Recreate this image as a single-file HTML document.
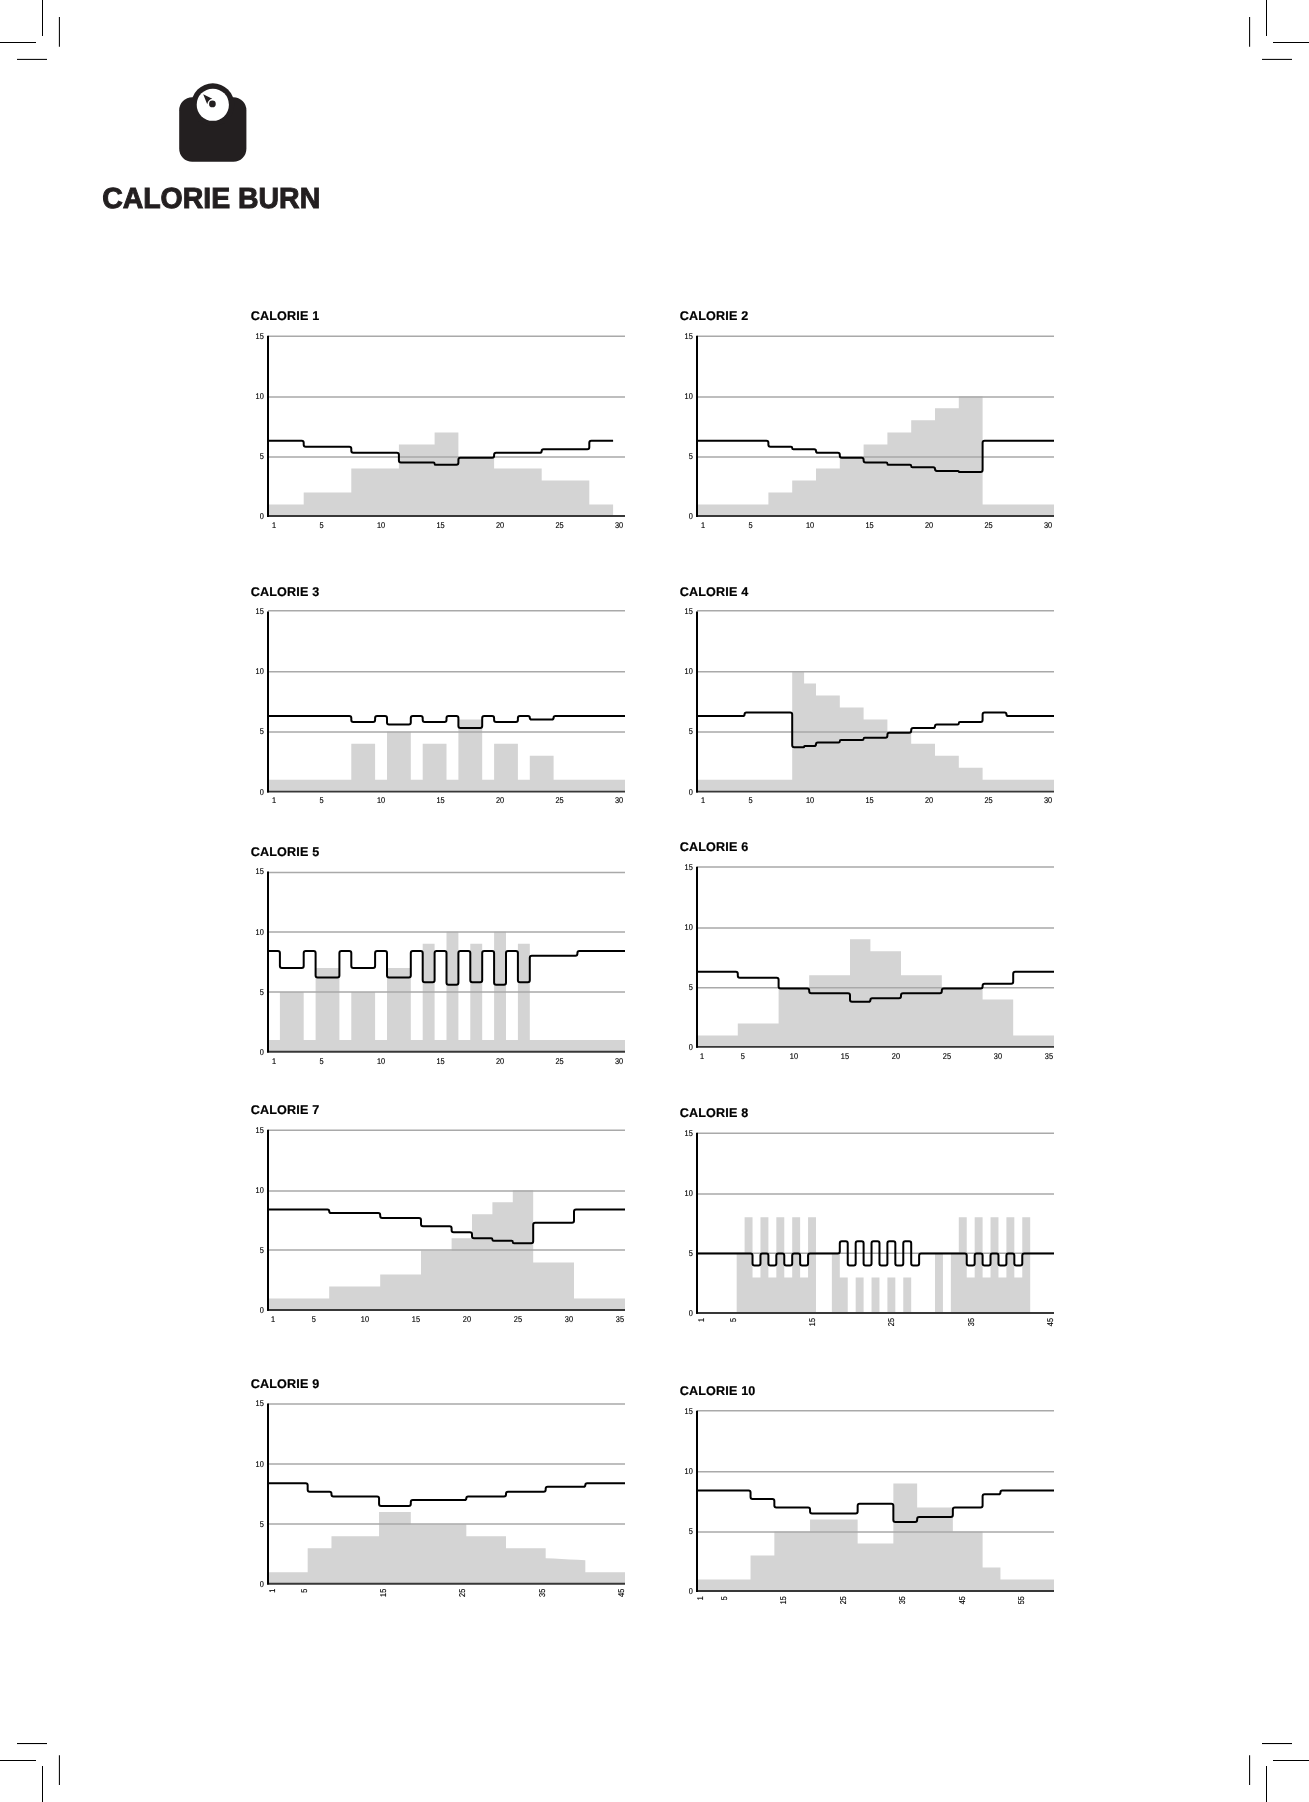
<!DOCTYPE html>
<html><head><meta charset="utf-8"><title>Calorie Burn</title>
<style>
html,body{margin:0;padding:0;background:#fff;}
body{width:1309px;height:1802px;overflow:hidden;}
svg{display:block;font-family:"Liberation Sans",sans-serif;will-change:transform;text-rendering:geometricPrecision;}
.ct{font-size:12.6px;font-weight:bold;fill:#000;letter-spacing:0.17px;stroke:#000;stroke-width:0.2px;}
.yl{font-size:8.4px;fill:#000;stroke:#000;stroke-width:0.15px;text-anchor:end;}
.xl{font-size:8.4px;fill:#000;stroke:#000;stroke-width:0.15px;text-anchor:middle;}
.xr{font-size:8.4px;fill:#000;stroke:#000;stroke-width:0.15px;text-anchor:end;}
.hd{font-size:29.2px;font-weight:bold;fill:#231f20;stroke:#231f20;stroke-width:1px;stroke-linejoin:miter;}
</style></head><body>
<svg width="1309" height="1802" viewBox="0 0 1309 1802">
<rect width="1309" height="1802" fill="#fff"/>
<g stroke="#000" stroke-width="1.05"><line x1="42.5" y1="0" x2="42.5" y2="36"/><line x1="59.4" y1="17" x2="59.4" y2="46.8"/><line x1="0" y1="42.5" x2="36" y2="42.5"/><line x1="17" y1="59.4" x2="47" y2="59.4"/><line x1="42.5" y1="1802" x2="42.5" y2="1766"/><line x1="59.4" y1="1785" x2="59.4" y2="1755.2"/><line x1="0" y1="1760.45" x2="36" y2="1760.45"/><line x1="17" y1="1743.55" x2="47" y2="1743.55"/><line x1="1266.5" y1="0" x2="1266.5" y2="36"/><line x1="1249.6" y1="17" x2="1249.6" y2="46.8"/><line x1="1309" y1="42.5" x2="1273" y2="42.5"/><line x1="1292" y1="59.4" x2="1262" y2="59.4"/><line x1="1266.5" y1="1802" x2="1266.5" y2="1766"/><line x1="1249.6" y1="1785" x2="1249.6" y2="1755.2"/><line x1="1309" y1="1760.45" x2="1273" y2="1760.45"/><line x1="1292" y1="1743.55" x2="1262" y2="1743.55"/></g>
<g fill="#231f20"><rect x="179.2" y="97.2" width="67.2" height="64.6" rx="13" ry="13"/><circle cx="212.8" cy="104.75" r="21.45"/><circle cx="212.8" cy="104.75" r="16.1" fill="#fff"/><circle cx="212.4" cy="103.95" r="3.35"/><path d="M203.2 94.3 L212.3 98.7 Q208.3 99.2 207.2 104.2 Z"/></g>
<text class="hd" x="102.2" y="207.9" textLength="218" lengthAdjust="spacingAndGlyphs">CALORIE BURN</text>
<g>
<path d="M268 516.6L268 504.57L303.7 504.57L303.7 492.54L351.3 492.54L351.3 468.48L398.9 468.48L398.9 444.42L434.6 444.42L434.6 432.39L458.4 432.39L458.4 456.45L494.1 456.45L494.1 468.48L541.7 468.48L541.7 480.51L589.3 480.51L589.3 504.57L613.1 504.57V516.6Z" fill="#d4d4d4"/>
<line x1="268" y1="457.1" x2="625" y2="457.1" stroke="#a9a9a9" stroke-width="1.5"/>
<line x1="268" y1="397" x2="625" y2="397" stroke="#a9a9a9" stroke-width="1.5"/>
<line x1="268" y1="336.2" x2="625" y2="336.2" stroke="#a9a9a9" stroke-width="1.5"/>
<line x1="267" y1="516" x2="625" y2="516" stroke="#383838" stroke-width="1.9"/>
<line x1="268" y1="335.8" x2="268" y2="516.9" stroke="#000" stroke-width="2"/>
<path d="M268 440.81H301.7Q303.7 440.81 303.7 442.81V444.83Q303.7 446.83 305.7 446.83H349.3Q351.3 446.83 351.3 448.83V450.84Q351.3 452.84 353.3 452.84H396.9Q398.9 452.84 398.9 454.84V460.47Q398.9 462.47 400.9 462.47H433.4Q434.6 462.47 434.6 463.67V463.67Q434.6 464.87 435.8 464.87H456.4Q458.4 464.87 458.4 462.87V459.65Q458.4 457.65 460.4 457.65H492.1Q494.1 457.65 494.1 455.65V454.84Q494.1 452.84 496.1 452.84H539.9Q541.7 452.84 541.7 451.04V451.04Q541.7 449.23 543.5 449.23H587.3Q589.3 449.23 589.3 447.23V442.81Q589.3 440.81 591.3 440.81H613.1" fill="none" stroke="#000" stroke-width="2" stroke-linejoin="round"/>
<text class="ct" x="250.65" y="320.1">CALORIE 1</text>
<text class="yl" transform="translate(263.8 518.95) scale(0.88 1)">0</text>
<text class="yl" transform="translate(263.8 458.88) scale(0.88 1)">5</text>
<text class="yl" transform="translate(263.8 398.81) scale(0.88 1)">10</text>
<text class="yl" transform="translate(263.8 338.74) scale(0.88 1)">15</text>
<text class="xl" transform="translate(273.95 527.85) scale(0.88 1)">1</text>
<text class="xl" transform="translate(321.55 527.85) scale(0.88 1)">5</text>
<text class="xl" transform="translate(381.05 527.85) scale(0.88 1)">10</text>
<text class="xl" transform="translate(440.55 527.85) scale(0.88 1)">15</text>
<text class="xl" transform="translate(500.05 527.85) scale(0.88 1)">20</text>
<text class="xl" transform="translate(559.55 527.85) scale(0.88 1)">25</text>
<text class="xl" transform="translate(619.05 527.85) scale(0.88 1)">30</text>
</g>
<g>
<path d="M697 516.6L697 504.57L768.4 504.57L768.4 492.54L792.2 492.54L792.2 480.51L816 480.51L816 468.48L839.8 468.48L839.8 456.45L863.6 456.45L863.6 444.42L887.4 444.42L887.4 432.39L911.2 432.39L911.2 420.36L935 420.36L935 408.33L958.8 408.33L958.8 396.3L982.6 396.3L982.6 504.57L1054 504.57V516.6Z" fill="#d4d4d4"/>
<line x1="697" y1="457.1" x2="1054" y2="457.1" stroke="#a9a9a9" stroke-width="1.5"/>
<line x1="697" y1="397" x2="1054" y2="397" stroke="#a9a9a9" stroke-width="1.5"/>
<line x1="697" y1="336.2" x2="1054" y2="336.2" stroke="#a9a9a9" stroke-width="1.5"/>
<line x1="696" y1="516" x2="1054" y2="516" stroke="#383838" stroke-width="1.9"/>
<line x1="697" y1="335.8" x2="697" y2="516.9" stroke="#000" stroke-width="2"/>
<path d="M697 440.81H766.4Q768.4 440.81 768.4 442.81V444.83Q768.4 446.83 770.4 446.83H791Q792.2 446.83 792.2 448.03V448.03Q792.2 449.23 793.4 449.23H814.2Q816 449.23 816 451.04V451.04Q816 452.84 817.8 452.84H837.8Q839.8 452.84 839.8 454.84V455.65Q839.8 457.65 841.8 457.65H861.6Q863.6 457.65 863.6 459.65V460.47Q863.6 462.47 865.6 462.47H886.2Q887.4 462.47 887.4 463.67V463.67Q887.4 464.87 888.6 464.87H910Q911.2 464.87 911.2 466.07V466.07Q911.2 467.28 912.4 467.28H933.2Q935 467.28 935 469.08V469.08Q935 470.89 936.8 470.89H958.2Q958.8 470.89 958.8 471.49V471.49Q958.8 472.09 959.4 472.09H980.6Q982.6 472.09 982.6 470.09V442.81Q982.6 440.81 984.6 440.81H1054" fill="none" stroke="#000" stroke-width="2" stroke-linejoin="round"/>
<text class="ct" x="679.65" y="320.1">CALORIE 2</text>
<text class="yl" transform="translate(692.8 518.95) scale(0.88 1)">0</text>
<text class="yl" transform="translate(692.8 458.88) scale(0.88 1)">5</text>
<text class="yl" transform="translate(692.8 398.81) scale(0.88 1)">10</text>
<text class="yl" transform="translate(692.8 338.74) scale(0.88 1)">15</text>
<text class="xl" transform="translate(702.95 527.85) scale(0.88 1)">1</text>
<text class="xl" transform="translate(750.55 527.85) scale(0.88 1)">5</text>
<text class="xl" transform="translate(810.05 527.85) scale(0.88 1)">10</text>
<text class="xl" transform="translate(869.55 527.85) scale(0.88 1)">15</text>
<text class="xl" transform="translate(929.05 527.85) scale(0.88 1)">20</text>
<text class="xl" transform="translate(988.55 527.85) scale(0.88 1)">25</text>
<text class="xl" transform="translate(1048.05 527.85) scale(0.88 1)">30</text>
</g>
<g>
<path d="M268 791.8L268 779.77L351.3 779.77L351.3 743.68L375.1 743.68L375.1 779.77L387 779.77L387 731.65L410.8 731.65L410.8 779.77L422.7 779.77L422.7 743.68L446.5 743.68L446.5 779.77L458.4 779.77L458.4 719.62L482.2 719.62L482.2 779.77L494.1 779.77L494.1 743.68L517.9 743.68L517.9 779.77L529.8 779.77L529.8 755.71L553.6 755.71L553.6 779.77L625 779.77V791.8Z" fill="#d4d4d4"/>
<line x1="268" y1="732" x2="625" y2="732" stroke="#a9a9a9" stroke-width="1.5"/>
<line x1="268" y1="671.7" x2="625" y2="671.7" stroke="#a9a9a9" stroke-width="1.5"/>
<line x1="268" y1="610.7" x2="625" y2="610.7" stroke="#a9a9a9" stroke-width="1.5"/>
<line x1="267" y1="791.6" x2="625" y2="791.6" stroke="#383838" stroke-width="1.9"/>
<line x1="268" y1="611.4" x2="268" y2="792.5" stroke="#000" stroke-width="2"/>
<path d="M268 716.01H349.3Q351.3 716.01 351.3 718.01V720.03Q351.3 722.03 353.3 722.03H373.1Q375.1 722.03 375.1 720.03V718.01Q375.1 716.01 377.1 716.01H385Q387 716.01 387 718.01V722.43Q387 724.43 389 724.43H408.8Q410.8 724.43 410.8 722.43V718.01Q410.8 716.01 412.8 716.01H420.7Q422.7 716.01 422.7 718.01V720.03Q422.7 722.03 424.7 722.03H444.5Q446.5 722.03 446.5 720.03V718.01Q446.5 716.01 448.5 716.01H456.4Q458.4 716.01 458.4 718.01V726.04Q458.4 728.04 460.4 728.04H480.2Q482.2 728.04 482.2 726.04V718.01Q482.2 716.01 484.2 716.01H492.1Q494.1 716.01 494.1 718.01V720.03Q494.1 722.03 496.1 722.03H515.9Q517.9 722.03 517.9 720.03V718.01Q517.9 716.01 519.9 716.01H528Q529.8 716.01 529.8 717.82V717.82Q529.8 719.62 531.6 719.62H551.8Q553.6 719.62 553.6 717.82V717.82Q553.6 716.01 555.4 716.01H625" fill="none" stroke="#000" stroke-width="2" stroke-linejoin="round"/>
<text class="ct" x="250.65" y="595.7">CALORIE 3</text>
<text class="yl" transform="translate(263.8 794.55) scale(0.88 1)">0</text>
<text class="yl" transform="translate(263.8 734.48) scale(0.88 1)">5</text>
<text class="yl" transform="translate(263.8 674.41) scale(0.88 1)">10</text>
<text class="yl" transform="translate(263.8 614.34) scale(0.88 1)">15</text>
<text class="xl" transform="translate(273.95 803.45) scale(0.88 1)">1</text>
<text class="xl" transform="translate(321.55 803.45) scale(0.88 1)">5</text>
<text class="xl" transform="translate(381.05 803.45) scale(0.88 1)">10</text>
<text class="xl" transform="translate(440.55 803.45) scale(0.88 1)">15</text>
<text class="xl" transform="translate(500.05 803.45) scale(0.88 1)">20</text>
<text class="xl" transform="translate(559.55 803.45) scale(0.88 1)">25</text>
<text class="xl" transform="translate(619.05 803.45) scale(0.88 1)">30</text>
</g>
<g>
<path d="M697 791.8L697 779.77L792.2 779.77L792.2 671.5L804.1 671.5L804.1 683.53L816 683.53L816 695.56L839.8 695.56L839.8 707.59L863.6 707.59L863.6 719.62L887.4 719.62L887.4 731.65L911.2 731.65L911.2 743.68L935 743.68L935 755.71L958.8 755.71L958.8 767.74L982.6 767.74L982.6 779.77L1054 779.77V791.8Z" fill="#d4d4d4"/>
<line x1="697" y1="732" x2="1054" y2="732" stroke="#a9a9a9" stroke-width="1.5"/>
<line x1="697" y1="671.7" x2="1054" y2="671.7" stroke="#a9a9a9" stroke-width="1.5"/>
<line x1="697" y1="610.7" x2="1054" y2="610.7" stroke="#a9a9a9" stroke-width="1.5"/>
<line x1="696" y1="791.6" x2="1054" y2="791.6" stroke="#383838" stroke-width="1.9"/>
<line x1="697" y1="611.4" x2="697" y2="792.5" stroke="#000" stroke-width="2"/>
<path d="M697 716.01H742.8Q744.6 716.01 744.6 714.21V714.21Q744.6 712.4 746.4 712.4H790.2Q792.2 712.4 792.2 714.4V745.29Q792.2 747.29 794.2 747.29H803.5Q804.1 747.29 804.1 746.69V746.69Q804.1 746.09 804.7 746.09H814.2Q816 746.09 816 744.28V744.28Q816 742.48 817.8 742.48H838.6Q839.8 742.48 839.8 741.27V741.27Q839.8 740.07 841 740.07H862.4Q863.6 740.07 863.6 738.87V738.87Q863.6 737.67 864.8 737.67H885.4Q887.4 737.67 887.4 735.67V734.85Q887.4 732.85 889.4 732.85H909.2Q911.2 732.85 911.2 730.85V730.04Q911.2 728.04 913.2 728.04H933.2Q935 728.04 935 726.24V726.24Q935 724.43 936.8 724.43H957.6Q958.8 724.43 958.8 723.23V723.23Q958.8 722.03 960 722.03H980.6Q982.6 722.03 982.6 720.03V714.4Q982.6 712.4 984.6 712.4H1004.6Q1006.4 712.4 1006.4 714.21V714.21Q1006.4 716.01 1008.2 716.01H1054" fill="none" stroke="#000" stroke-width="2" stroke-linejoin="round"/>
<text class="ct" x="679.65" y="595.7">CALORIE 4</text>
<text class="yl" transform="translate(692.8 794.55) scale(0.88 1)">0</text>
<text class="yl" transform="translate(692.8 734.48) scale(0.88 1)">5</text>
<text class="yl" transform="translate(692.8 674.41) scale(0.88 1)">10</text>
<text class="yl" transform="translate(692.8 614.34) scale(0.88 1)">15</text>
<text class="xl" transform="translate(702.95 803.45) scale(0.88 1)">1</text>
<text class="xl" transform="translate(750.55 803.45) scale(0.88 1)">5</text>
<text class="xl" transform="translate(810.05 803.45) scale(0.88 1)">10</text>
<text class="xl" transform="translate(869.55 803.45) scale(0.88 1)">15</text>
<text class="xl" transform="translate(929.05 803.45) scale(0.88 1)">20</text>
<text class="xl" transform="translate(988.55 803.45) scale(0.88 1)">25</text>
<text class="xl" transform="translate(1048.05 803.45) scale(0.88 1)">30</text>
</g>
<g>
<path d="M268 1052.1L268 1040.07L279.9 1040.07L279.9 991.95L303.7 991.95L303.7 1040.07L315.6 1040.07L315.6 967.89L339.4 967.89L339.4 1040.07L351.3 1040.07L351.3 991.95L375.1 991.95L375.1 1040.07L387 1040.07L387 967.89L410.8 967.89L410.8 1040.07L422.7 1040.07L422.7 943.83L434.6 943.83L434.6 1040.07L446.5 1040.07L446.5 931.8L458.4 931.8L458.4 1040.07L470.3 1040.07L470.3 943.83L482.2 943.83L482.2 1040.07L494.1 1040.07L494.1 931.8L506 931.8L506 1040.07L517.9 1040.07L517.9 943.83L529.8 943.83L529.8 1040.07L625 1040.07V1052.1Z" fill="#d4d4d4"/>
<line x1="268" y1="992.1" x2="625" y2="992.1" stroke="#a9a9a9" stroke-width="1.5"/>
<line x1="268" y1="932" x2="625" y2="932" stroke="#a9a9a9" stroke-width="1.5"/>
<line x1="268" y1="872.4" x2="625" y2="872.4" stroke="#a9a9a9" stroke-width="1.5"/>
<line x1="267" y1="1051.7" x2="625" y2="1051.7" stroke="#383838" stroke-width="1.9"/>
<line x1="268" y1="871.5" x2="268" y2="1052.6" stroke="#000" stroke-width="2"/>
<path d="M268 951.05H277.9Q279.9 951.05 279.9 953.05V965.89Q279.9 967.89 281.9 967.89H301.7Q303.7 967.89 303.7 965.89V953.05Q303.7 951.05 305.7 951.05H313.6Q315.6 951.05 315.6 953.05V975.51Q315.6 977.51 317.6 977.51H337.4Q339.4 977.51 339.4 975.51V953.05Q339.4 951.05 341.4 951.05H349.3Q351.3 951.05 351.3 953.05V965.89Q351.3 967.89 353.3 967.89H373.1Q375.1 967.89 375.1 965.89V953.05Q375.1 951.05 377.1 951.05H385Q387 951.05 387 953.05V975.51Q387 977.51 389 977.51H408.8Q410.8 977.51 410.8 975.51V953.05Q410.8 951.05 412.8 951.05H420.7Q422.7 951.05 422.7 953.05V980.33Q422.7 982.33 424.7 982.33H432.6Q434.6 982.33 434.6 980.33V953.05Q434.6 951.05 436.6 951.05H444.5Q446.5 951.05 446.5 953.05V982.73Q446.5 984.73 448.5 984.73H456.4Q458.4 984.73 458.4 982.73V953.05Q458.4 951.05 460.4 951.05H468.3Q470.3 951.05 470.3 953.05V980.33Q470.3 982.33 472.3 982.33H480.2Q482.2 982.33 482.2 980.33V953.05Q482.2 951.05 484.2 951.05H492.1Q494.1 951.05 494.1 953.05V982.73Q494.1 984.73 496.1 984.73H504Q506 984.73 506 982.73V953.05Q506 951.05 508 951.05H515.9Q517.9 951.05 517.9 953.05V980.33Q517.9 982.33 519.9 982.33H527.8Q529.8 982.33 529.8 980.33V957.86Q529.8 955.86 531.8 955.86H575.4Q577.4 955.86 577.4 953.86V953.05Q577.4 951.05 579.4 951.05H625" fill="none" stroke="#000" stroke-width="2" stroke-linejoin="round"/>
<text class="ct" x="250.65" y="855.8">CALORIE 5</text>
<text class="yl" transform="translate(263.8 1054.65) scale(0.88 1)">0</text>
<text class="yl" transform="translate(263.8 994.58) scale(0.88 1)">5</text>
<text class="yl" transform="translate(263.8 934.51) scale(0.88 1)">10</text>
<text class="yl" transform="translate(263.8 874.44) scale(0.88 1)">15</text>
<text class="xl" transform="translate(273.95 1063.55) scale(0.88 1)">1</text>
<text class="xl" transform="translate(321.55 1063.55) scale(0.88 1)">5</text>
<text class="xl" transform="translate(381.05 1063.55) scale(0.88 1)">10</text>
<text class="xl" transform="translate(440.55 1063.55) scale(0.88 1)">15</text>
<text class="xl" transform="translate(500.05 1063.55) scale(0.88 1)">20</text>
<text class="xl" transform="translate(559.55 1063.55) scale(0.88 1)">25</text>
<text class="xl" transform="translate(619.05 1063.55) scale(0.88 1)">30</text>
</g>
<g>
<path d="M697 1047.5L697 1035.47L737.8 1035.47L737.8 1023.44L778.6 1023.44L778.6 987.35L809.2 987.35L809.2 975.32L850 975.32L850 939.23L870.4 939.23L870.4 951.26L901 951.26L901 975.32L941.8 975.32L941.8 987.35L982.6 987.35L982.6 999.38L1013.2 999.38L1013.2 1035.47L1054 1035.47V1047.5Z" fill="#d4d4d4"/>
<line x1="697" y1="987.7" x2="1054" y2="987.7" stroke="#a9a9a9" stroke-width="1.5"/>
<line x1="697" y1="927.9" x2="1054" y2="927.9" stroke="#a9a9a9" stroke-width="1.5"/>
<line x1="697" y1="867.1" x2="1054" y2="867.1" stroke="#a9a9a9" stroke-width="1.5"/>
<line x1="696" y1="1046.9" x2="1054" y2="1046.9" stroke="#383838" stroke-width="1.9"/>
<line x1="697" y1="866.7" x2="697" y2="1047.8" stroke="#000" stroke-width="2"/>
<path d="M697 971.71H735.8Q737.8 971.71 737.8 973.71V975.73Q737.8 977.73 739.8 977.73H776.6Q778.6 977.73 778.6 979.73V986.55Q778.6 988.55 780.6 988.55H807.2Q809.2 988.55 809.2 990.55V991.37Q809.2 993.37 811.2 993.37H848Q850 993.37 850 995.37V999.79Q850 1001.79 852 1001.79H868.6Q870.4 1001.79 870.4 999.98V999.98Q870.4 998.18 872.2 998.18H899Q901 998.18 901 996.18V995.37Q901 993.37 903 993.37H939.8Q941.8 993.37 941.8 991.37V990.55Q941.8 988.55 943.8 988.55H980.6Q982.6 988.55 982.6 986.55V985.74Q982.6 983.74 984.6 983.74H1011.2Q1013.2 983.74 1013.2 981.74V973.71Q1013.2 971.71 1015.2 971.71H1054" fill="none" stroke="#000" stroke-width="2" stroke-linejoin="round"/>
<text class="ct" x="679.65" y="851">CALORIE 6</text>
<text class="yl" transform="translate(692.8 1049.85) scale(0.88 1)">0</text>
<text class="yl" transform="translate(692.8 989.78) scale(0.88 1)">5</text>
<text class="yl" transform="translate(692.8 929.71) scale(0.88 1)">10</text>
<text class="yl" transform="translate(692.8 869.64) scale(0.88 1)">15</text>
<text class="xl" transform="translate(702.1 1058.75) scale(0.88 1)">1</text>
<text class="xl" transform="translate(742.9 1058.75) scale(0.88 1)">5</text>
<text class="xl" transform="translate(793.9 1058.75) scale(0.88 1)">10</text>
<text class="xl" transform="translate(844.9 1058.75) scale(0.88 1)">15</text>
<text class="xl" transform="translate(895.9 1058.75) scale(0.88 1)">20</text>
<text class="xl" transform="translate(946.9 1058.75) scale(0.88 1)">25</text>
<text class="xl" transform="translate(997.9 1058.75) scale(0.88 1)">30</text>
<text class="xl" transform="translate(1048.9 1058.75) scale(0.88 1)">35</text>
</g>
<g>
<path d="M268 1310.55L268 1298.52L329.2 1298.52L329.2 1286.49L380.2 1286.49L380.2 1274.46L421 1274.46L421 1250.4L451.6 1250.4L451.6 1238.37L472 1238.37L472 1214.31L492.4 1214.31L492.4 1202.28L512.8 1202.28L512.8 1190.25L533.2 1190.25L533.2 1262.43L574 1262.43L574 1298.52L625 1298.52V1310.55Z" fill="#d4d4d4"/>
<line x1="268" y1="1249.95" x2="625" y2="1249.95" stroke="#a9a9a9" stroke-width="1.5"/>
<line x1="268" y1="1191" x2="625" y2="1191" stroke="#a9a9a9" stroke-width="1.5"/>
<line x1="268" y1="1130.35" x2="625" y2="1130.35" stroke="#a9a9a9" stroke-width="1.5"/>
<line x1="267" y1="1309.95" x2="625" y2="1309.95" stroke="#383838" stroke-width="1.9"/>
<line x1="268" y1="1129.75" x2="268" y2="1310.85" stroke="#000" stroke-width="2"/>
<path d="M268 1209.5H327.4Q329.2 1209.5 329.2 1211.3V1211.3Q329.2 1213.11 331 1213.11H378.2Q380.2 1213.11 380.2 1215.11V1215.92Q380.2 1217.92 382.2 1217.92H419Q421 1217.92 421 1219.92V1224.34Q421 1226.34 423 1226.34H449.6Q451.6 1226.34 451.6 1228.34V1230.36Q451.6 1232.36 453.6 1232.36H470Q472 1232.36 472 1234.36V1236.37Q472 1238.37 474 1238.37H491.2Q492.4 1238.37 492.4 1239.57V1239.57Q492.4 1240.78 493.6 1240.78H511.6Q512.8 1240.78 512.8 1241.98V1241.98Q512.8 1243.18 514 1243.18H531.2Q533.2 1243.18 533.2 1241.18V1224.73Q533.2 1222.73 535.2 1222.73H572Q574 1222.73 574 1220.73V1211.5Q574 1209.5 576 1209.5H625" fill="none" stroke="#000" stroke-width="2" stroke-linejoin="round"/>
<text class="ct" x="250.65" y="1114.05">CALORIE 7</text>
<text class="yl" transform="translate(263.8 1312.9) scale(0.88 1)">0</text>
<text class="yl" transform="translate(263.8 1252.83) scale(0.88 1)">5</text>
<text class="yl" transform="translate(263.8 1192.76) scale(0.88 1)">10</text>
<text class="yl" transform="translate(263.8 1132.69) scale(0.88 1)">15</text>
<text class="xl" transform="translate(273.1 1321.8) scale(0.88 1)">1</text>
<text class="xl" transform="translate(313.9 1321.8) scale(0.88 1)">5</text>
<text class="xl" transform="translate(364.9 1321.8) scale(0.88 1)">10</text>
<text class="xl" transform="translate(415.9 1321.8) scale(0.88 1)">15</text>
<text class="xl" transform="translate(466.9 1321.8) scale(0.88 1)">20</text>
<text class="xl" transform="translate(517.9 1321.8) scale(0.88 1)">25</text>
<text class="xl" transform="translate(568.9 1321.8) scale(0.88 1)">30</text>
<text class="xl" transform="translate(619.9 1321.8) scale(0.88 1)">35</text>
</g>
<g>
<path d="M697 1313.55L697 1313.55L736.67 1313.55L736.67 1253.4L744.6 1253.4L744.6 1217.31L752.53 1217.31L752.53 1277.46L760.47 1277.46L760.47 1217.31L768.4 1217.31L768.4 1277.46L776.33 1277.46L776.33 1217.31L784.27 1217.31L784.27 1277.46L792.2 1277.46L792.2 1217.31L800.13 1217.31L800.13 1277.46L808.07 1277.46L808.07 1217.31L816 1217.31L816 1313.55L831.87 1313.55L831.87 1253.4L839.8 1253.4L839.8 1277.46L847.73 1277.46L847.73 1313.55L855.67 1313.55L855.67 1277.46L863.6 1277.46L863.6 1313.55L871.53 1313.55L871.53 1277.46L879.47 1277.46L879.47 1313.55L887.4 1313.55L887.4 1277.46L895.33 1277.46L895.33 1313.55L903.27 1313.55L903.27 1277.46L911.2 1277.46L911.2 1313.55L935 1313.55L935 1253.4L942.93 1253.4L942.93 1313.55L950.87 1313.55L950.87 1253.4L958.8 1253.4L958.8 1217.31L966.73 1217.31L966.73 1277.46L974.67 1277.46L974.67 1217.31L982.6 1217.31L982.6 1277.46L990.53 1277.46L990.53 1217.31L998.47 1217.31L998.47 1277.46L1006.4 1277.46L1006.4 1217.31L1014.33 1217.31L1014.33 1277.46L1022.27 1277.46L1022.27 1217.31L1030.2 1217.31L1030.2 1313.55L1054 1313.55V1313.55Z" fill="#d4d4d4"/>
<line x1="697" y1="1253.35" x2="1054" y2="1253.35" stroke="#a9a9a9" stroke-width="1.5"/>
<line x1="697" y1="1194" x2="1054" y2="1194" stroke="#a9a9a9" stroke-width="1.5"/>
<line x1="697" y1="1133.35" x2="1054" y2="1133.35" stroke="#a9a9a9" stroke-width="1.5"/>
<line x1="696" y1="1312.95" x2="1054" y2="1312.95" stroke="#383838" stroke-width="1.9"/>
<line x1="697" y1="1132.75" x2="697" y2="1313.85" stroke="#000" stroke-width="2"/>
<path d="M697 1253.4H750.53Q752.53 1253.4 752.53 1255.4V1263.43Q752.53 1265.43 754.53 1265.43H758.47Q760.47 1265.43 760.47 1263.43V1255.4Q760.47 1253.4 762.47 1253.4H766.4Q768.4 1253.4 768.4 1255.4V1263.43Q768.4 1265.43 770.4 1265.43H774.33Q776.33 1265.43 776.33 1263.43V1255.4Q776.33 1253.4 778.33 1253.4H782.27Q784.27 1253.4 784.27 1255.4V1263.43Q784.27 1265.43 786.27 1265.43H790.2Q792.2 1265.43 792.2 1263.43V1255.4Q792.2 1253.4 794.2 1253.4H798.13Q800.13 1253.4 800.13 1255.4V1263.43Q800.13 1265.43 802.13 1265.43H806.07Q808.07 1265.43 808.07 1263.43V1255.4Q808.07 1253.4 810.07 1253.4H837.8Q839.8 1253.4 839.8 1251.4V1243.37Q839.8 1241.37 841.8 1241.37H845.73Q847.73 1241.37 847.73 1243.37V1263.43Q847.73 1265.43 849.73 1265.43H853.67Q855.67 1265.43 855.67 1263.43V1243.37Q855.67 1241.37 857.67 1241.37H861.6Q863.6 1241.37 863.6 1243.37V1263.43Q863.6 1265.43 865.6 1265.43H869.53Q871.53 1265.43 871.53 1263.43V1243.37Q871.53 1241.37 873.53 1241.37H877.47Q879.47 1241.37 879.47 1243.37V1263.43Q879.47 1265.43 881.47 1265.43H885.4Q887.4 1265.43 887.4 1263.43V1243.37Q887.4 1241.37 889.4 1241.37H893.33Q895.33 1241.37 895.33 1243.37V1263.43Q895.33 1265.43 897.33 1265.43H901.27Q903.27 1265.43 903.27 1263.43V1243.37Q903.27 1241.37 905.27 1241.37H909.2Q911.2 1241.37 911.2 1243.37V1263.43Q911.2 1265.43 913.2 1265.43H917.13Q919.13 1265.43 919.13 1263.43V1255.4Q919.13 1253.4 921.13 1253.4H964.73Q966.73 1253.4 966.73 1255.4V1263.43Q966.73 1265.43 968.73 1265.43H972.67Q974.67 1265.43 974.67 1263.43V1255.4Q974.67 1253.4 976.67 1253.4H980.6Q982.6 1253.4 982.6 1255.4V1263.43Q982.6 1265.43 984.6 1265.43H988.53Q990.53 1265.43 990.53 1263.43V1255.4Q990.53 1253.4 992.53 1253.4H996.47Q998.47 1253.4 998.47 1255.4V1263.43Q998.47 1265.43 1000.47 1265.43H1004.4Q1006.4 1265.43 1006.4 1263.43V1255.4Q1006.4 1253.4 1008.4 1253.4H1012.33Q1014.33 1253.4 1014.33 1255.4V1263.43Q1014.33 1265.43 1016.33 1265.43H1020.27Q1022.27 1265.43 1022.27 1263.43V1255.4Q1022.27 1253.4 1024.27 1253.4H1054" fill="none" stroke="#000" stroke-width="2" stroke-linejoin="round"/>
<text class="ct" x="679.65" y="1117.05">CALORIE 8</text>
<text class="yl" transform="translate(692.8 1315.9) scale(0.88 1)">0</text>
<text class="yl" transform="translate(692.8 1255.83) scale(0.88 1)">5</text>
<text class="yl" transform="translate(692.8 1195.76) scale(0.88 1)">10</text>
<text class="yl" transform="translate(692.8 1135.69) scale(0.88 1)">15</text>
<text class="xr" transform="translate(703.77 1317.95) rotate(-90) scale(0.88 1)">1</text>
<text class="xr" transform="translate(735.5 1317.95) rotate(-90) scale(0.88 1)">5</text>
<text class="xr" transform="translate(814.83 1317.95) rotate(-90) scale(0.88 1)">15</text>
<text class="xr" transform="translate(894.17 1317.95) rotate(-90) scale(0.88 1)">25</text>
<text class="xr" transform="translate(973.5 1317.95) rotate(-90) scale(0.88 1)">35</text>
<text class="xr" transform="translate(1052.83 1317.95) rotate(-90) scale(0.88 1)">45</text>
</g>
<g>
<path d="M268 1584.3L268 1572.27L307.67 1572.27L307.67 1548.21L331.47 1548.21L331.47 1536.18L379.07 1536.18L379.07 1512.12L410.8 1512.12L410.8 1524.15L466.33 1524.15L466.33 1536.18L506 1536.18L506 1548.21L545.67 1548.21L545.67 1558.19L553.6 1558.6L561.53 1559.01L569.47 1559.42L577.4 1559.83L585.33 1560.24L585.33 1572.27L625 1572.27V1584.3Z" fill="#d4d4d4"/>
<line x1="268" y1="1524" x2="625" y2="1524" stroke="#a9a9a9" stroke-width="1.5"/>
<line x1="268" y1="1464" x2="625" y2="1464" stroke="#a9a9a9" stroke-width="1.5"/>
<line x1="268" y1="1404.1" x2="625" y2="1404.1" stroke="#a9a9a9" stroke-width="1.5"/>
<line x1="267" y1="1583.7" x2="625" y2="1583.7" stroke="#383838" stroke-width="1.9"/>
<line x1="268" y1="1403.5" x2="268" y2="1584.6" stroke="#000" stroke-width="2"/>
<path d="M268 1483.25H305.67Q307.67 1483.25 307.67 1485.25V1489.67Q307.67 1491.67 309.67 1491.67H329.47Q331.47 1491.67 331.47 1493.67V1494.48Q331.47 1496.48 333.47 1496.48H377.07Q379.07 1496.48 379.07 1498.48V1504.11Q379.07 1506.11 381.07 1506.11H408.8Q410.8 1506.11 410.8 1504.11V1502.09Q410.8 1500.09 412.8 1500.09H464.53Q466.33 1500.09 466.33 1498.29V1498.29Q466.33 1496.48 468.14 1496.48H504Q506 1496.48 506 1494.48V1493.67Q506 1491.67 508 1491.67H543.67Q545.67 1491.67 545.67 1489.67V1488.86Q545.67 1486.86 547.67 1486.86H583.53Q585.33 1486.86 585.33 1485.05V1485.05Q585.33 1483.25 587.14 1483.25H625" fill="none" stroke="#000" stroke-width="2" stroke-linejoin="round"/>
<text class="ct" x="250.65" y="1387.8">CALORIE 9</text>
<text class="yl" transform="translate(263.8 1586.65) scale(0.88 1)">0</text>
<text class="yl" transform="translate(263.8 1526.58) scale(0.88 1)">5</text>
<text class="yl" transform="translate(263.8 1466.51) scale(0.88 1)">10</text>
<text class="yl" transform="translate(263.8 1406.44) scale(0.88 1)">15</text>
<text class="xr" transform="translate(274.77 1588.7) rotate(-90) scale(0.88 1)">1</text>
<text class="xr" transform="translate(306.5 1588.7) rotate(-90) scale(0.88 1)">5</text>
<text class="xr" transform="translate(385.83 1588.7) rotate(-90) scale(0.88 1)">15</text>
<text class="xr" transform="translate(465.17 1588.7) rotate(-90) scale(0.88 1)">25</text>
<text class="xr" transform="translate(544.5 1588.7) rotate(-90) scale(0.88 1)">35</text>
<text class="xr" transform="translate(623.83 1588.7) rotate(-90) scale(0.88 1)">45</text>
</g>
<g>
<path d="M697 1591.65L697 1579.62L750.55 1579.62L750.55 1555.56L774.35 1555.56L774.35 1531.5L810.05 1531.5L810.05 1519.47L857.65 1519.47L857.65 1543.53L893.35 1543.53L893.35 1483.38L917.15 1483.38L917.15 1507.44L952.85 1507.44L952.85 1531.5L982.6 1531.5L982.6 1567.59L1000.45 1567.59L1000.45 1579.62L1054 1579.62V1591.65Z" fill="#d4d4d4"/>
<line x1="697" y1="1531.95" x2="1054" y2="1531.95" stroke="#a9a9a9" stroke-width="1.5"/>
<line x1="697" y1="1471.75" x2="1054" y2="1471.75" stroke="#a9a9a9" stroke-width="1.5"/>
<line x1="697" y1="1410.75" x2="1054" y2="1410.75" stroke="#a9a9a9" stroke-width="1.5"/>
<line x1="696" y1="1591.05" x2="1054" y2="1591.05" stroke="#383838" stroke-width="1.9"/>
<line x1="697" y1="1410.85" x2="697" y2="1591.95" stroke="#000" stroke-width="2"/>
<path d="M697 1490.6H748.55Q750.55 1490.6 750.55 1492.6V1497.02Q750.55 1499.02 752.55 1499.02H772.35Q774.35 1499.02 774.35 1501.02V1505.44Q774.35 1507.44 776.35 1507.44H808.05Q810.05 1507.44 810.05 1509.44V1511.45Q810.05 1513.45 812.05 1513.45H855.65Q857.65 1513.45 857.65 1511.45V1505.83Q857.65 1503.83 859.65 1503.83H891.35Q893.35 1503.83 893.35 1505.83V1519.88Q893.35 1521.88 895.35 1521.88H915.15Q917.15 1521.88 917.15 1519.88V1519.06Q917.15 1517.06 919.15 1517.06H950.85Q952.85 1517.06 952.85 1515.06V1509.44Q952.85 1507.44 954.85 1507.44H980.6Q982.6 1507.44 982.6 1505.44V1496.21Q982.6 1494.21 984.6 1494.21H998.65Q1000.45 1494.21 1000.45 1492.4V1492.4Q1000.45 1490.6 1002.25 1490.6H1054" fill="none" stroke="#000" stroke-width="2" stroke-linejoin="round"/>
<text class="ct" x="679.65" y="1395.15">CALORIE 10</text>
<text class="yl" transform="translate(692.8 1594) scale(0.88 1)">0</text>
<text class="yl" transform="translate(692.8 1533.93) scale(0.88 1)">5</text>
<text class="yl" transform="translate(692.8 1473.86) scale(0.88 1)">10</text>
<text class="yl" transform="translate(692.8 1413.79) scale(0.88 1)">15</text>
<text class="xr" transform="translate(702.77 1596.05) rotate(-90) scale(0.88 1)">1</text>
<text class="xr" transform="translate(726.57 1596.05) rotate(-90) scale(0.88 1)">5</text>
<text class="xr" transform="translate(786.07 1596.05) rotate(-90) scale(0.88 1)">15</text>
<text class="xr" transform="translate(845.57 1596.05) rotate(-90) scale(0.88 1)">25</text>
<text class="xr" transform="translate(905.07 1596.05) rotate(-90) scale(0.88 1)">35</text>
<text class="xr" transform="translate(964.58 1596.05) rotate(-90) scale(0.88 1)">45</text>
<text class="xr" transform="translate(1024.08 1596.05) rotate(-90) scale(0.88 1)">55</text>
</g>
</svg>
</body></html>
